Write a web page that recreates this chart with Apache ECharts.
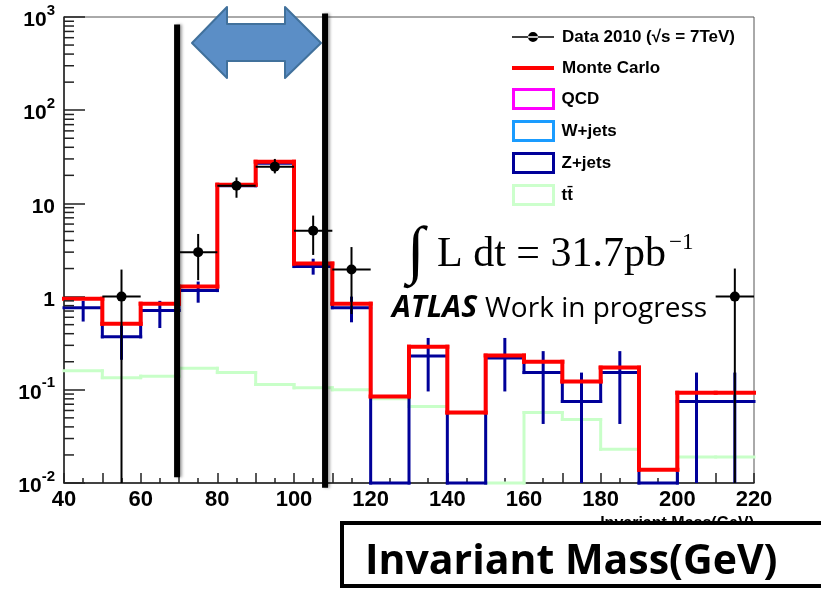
<!DOCTYPE html>
<html>
<head>
<meta charset="utf-8">
<script src="https://cdn.jsdelivr.net/npm/echarts@6/dist/echarts.min.js"></script>
<style>
  html, body { margin: 0; padding: 0; background: #fff; }
  #main { width: 821px; height: 589px; }
</style>
</head>
<body>
<div id="main"></div>
<script>
// bin edges of the mass histogram (GeV)
const binEdges = [40, 50, 60, 70, 80, 90, 100, 110, 120, 130, 140, 150, 160, 170, 180, 190, 200, 210, 220];
// Monte Carlo total (red)
const mcValues = [0.95, 0.51, 0.84, 1.28, 15.9, 28, 2.26, 0.84, 0.085, 0.29, 0.057, 0.233, 0.20, 0.123, 0.173, 0.0139, 0.093, 0.093];
// Z+jets (navy), empty bins sit on the axis floor
const zjetsValues = [0.76, 0.37, 0.71, 1.16, 15.5, 27, 2.1, 0.76, 0.01, 0.23, 0.01, 0.22, 0.153, 0.075, 0.153, 0.01, 0.075, 0.075];
const zjetsErrHi = [0.9, 0.5, 0.9, 1.45, 17, 29, 2.55, 1.0, null, 0.36, null, 0.36, 0.26, 0.153, 0.26, null, 0.153, 0.153];
const zjetsErrLo = [0.54, 0.21, 0.46, 0.86, 14, 25, 1.72, 0.53, null, 0.096, null, 0.096, 0.043, 0.01, 0.043, null, 0.01, 0.01];
// ttbar (light green)
const ttbarValues = [0.16, 0.135, 0.14, 0.17, 0.153, 0.114, 0.105, 0.1, 0.08, 0.066, 0.056, 0.01, 0.057, 0.048, 0.023, 0.014, 0.019, 0.019];
// QCD and W+jets have nothing visible
const qcdValues = [];
const wjetsValues = [];
// data points
const dataMass = [55, 75, 85, 95, 105, 115, 215];
const dataValues = [1.0, 3.0, 15.5, 24.8, 5.1, 1.95, 1.0];
const dataErrHi = [1.95, 4.7, 19, 30, 7.4, 3.4, 2.0];
const dataErrLo = [0.01, 1.5, 11.5, 21, 2.8, 0.65, 0.01];
// hand drawn cut lines
const cutMass = [69.5, 108.1];
const cutTop = [830, 1090];
const cutBottom = [0.0115, 0.0089];

const yLabels = { '1000': '{b|10}{s|3}', '100': '{b|10}{s|2}', '10': '{b|10}', '1': '{b|1}', '0.1': '{b|10}{s|-1}', '0.01': '{b|10}{s|-2}' };
const yMinorTicks = [];
[0.01, 0.1, 1, 10, 100].forEach(d => { for (let m = 2; m <= 9; m++) yMinorTicks.push(+(d * m).toPrecision(3)); });

const binHalf = (binEdges[1] - binEdges[0]) / 2;

function histData(vals) {
  return vals.map((v, i) => [binEdges[i], binEdges[i + 1], v, i > 0 ? vals[i - 1] : null]);
}

function histRender(color, width) {
  return function (params, api) {
    const a = api.coord([api.value(0), api.value(2)]);
    const b = api.coord([api.value(1), api.value(2)]);
    const kids = [{
      type: 'line',
      shape: { x1: a[0], y1: a[1], x2: b[0], y2: b[1] },
      style: { stroke: color, lineWidth: width, lineCap: 'square' }
    }];
    const prev = api.value(3);
    if (!isNaN(prev)) {
      const p = api.coord([api.value(0), prev]);
      kids.push({
        type: 'line',
        shape: { x1: p[0], y1: p[1], x2: a[0], y2: a[1] },
        style: { stroke: color, lineWidth: width, lineCap: 'square' }
      });
    }
    return { type: 'group', children: kids };
  };
}

const bold = 'Liberation Sans';
const legendText = { fontFamily: bold, fontWeight: 'bold', fontSize: 17, color: '#000', lineHeight: 20, padding: [0, 0, 0, 3] };

const chart = echarts.init(document.getElementById('main'));
chart.setOption({
  animation: false,
  backgroundColor: '#fff',
  grid: { left: 64, top: 17, width: 690, height: 466, show: true, borderColor: '#555', borderWidth: 1 },
  legend: [{
    orient: 'vertical', left: 512, top: 27, padding: 0, itemWidth: 42, itemHeight: 10,
    textStyle: legendText,
    data: [{ name: 'Data 2010 (√s = 7TeV)', icon: 'path://M0,4.25h42v1.5h-42z M16,5a5,5 0 1,0 10,0a5,5 0 1,0 -10,0z', itemStyle: { color: '#000' } }]
  }, {
    orient: 'vertical', left: 512, top: 58, padding: 0, itemWidth: 42, itemHeight: 4,
    textStyle: legendText,
    data: [{ name: 'Monte Carlo', icon: 'rect', itemStyle: { color: '#ff0000' } }]
  }, {
    orient: 'vertical', left: 512, top: 88, padding: 0, itemWidth: 40, itemHeight: 19, itemGap: 10,
    textStyle: legendText,
    data: [
      { name: 'QCD', icon: 'rect', itemStyle: { color: 'rgba(0,0,0,0)', borderColor: '#ff00ff', borderWidth: 3 } },
      { name: 'W+jets', icon: 'rect', itemStyle: { color: 'rgba(0,0,0,0)', borderColor: '#1a9cff', borderWidth: 3 } },
      { name: 'Z+jets', icon: 'rect', itemStyle: { color: 'rgba(0,0,0,0)', borderColor: '#000099', borderWidth: 3 } },
      { name: 'tt̄', icon: 'rect', itemStyle: { color: 'rgba(0,0,0,0)', borderColor: '#ccffcc', borderWidth: 3 } }
    ]
  }],
  xAxis: {
    type: 'value', min: 40, max: 220, interval: 10,
    axisLine: { lineStyle: { color: '#222', width: 1.5 } },
    axisTick: { inside: true, length: 10, lineStyle: { color: '#222', width: 1.5 } },
    minorTick: { show: true, splitNumber: 2, length: 5, lineStyle: { color: '#222', width: 1.5 } },
    splitLine: { show: false },
    axisLabel: {
      margin: 6, color: '#000', fontFamily: bold, fontWeight: 'bold', fontSize: 22,
      formatter: v => (v % 20 === 0 ? String(v) : '')
    },
    name: 'Invariant Mass(GeV)', nameLocation: 'end', nameGap: 0,
    nameTextStyle: { align: 'right', verticalAlign: 'top', padding: [33, 0, 0, 0], fontFamily: bold, fontWeight: 'bold', fontSize: 16, color: '#000' }
  },
  yAxis: {
    type: 'log', logBase: 10, min: 0.01, max: 1000,
    axisLine: { lineStyle: { color: '#222', width: 1.5 } },
    axisTick: { inside: true, length: 21, lineStyle: { color: '#222', width: 1.5 } },
    splitLine: { show: false },
    axisLabel: {
      margin: 9, color: '#000',
      formatter: v => yLabels[String(+v.toPrecision(3))] || '',
      rich: {
        b: { fontFamily: bold, fontWeight: 'bold', fontSize: 21, lineHeight: 28, verticalAlign: 'bottom', color: '#000' },
        s: { fontFamily: bold, fontWeight: 'bold', fontSize: 15, lineHeight: 15, verticalAlign: 'top', color: '#000' }
      }
    }
  },
  series: [
    {
      type: 'custom', silent: true, z: 3,
      data: yMinorTicks.map(v => [binEdges[0], v]),
      renderItem: (params, api) => {
        const p = api.coord([api.value(0), api.value(1)]);
        return { type: 'line', shape: { x1: p[0], y1: p[1], x2: p[0] + 10, y2: p[1] }, style: { stroke: '#222', lineWidth: 1.5 } };
      }
    },
    { name: 'QCD', type: 'custom', data: qcdValues, itemStyle: { color: '#ff00ff' }, renderItem: histRender('#ff00ff', 3) },
    { name: 'W+jets', type: 'custom', data: wjetsValues, itemStyle: { color: '#1a9cff' }, renderItem: histRender('#1a9cff', 3) },
    { name: 'tt̄', type: 'custom', data: histData(ttbarValues), itemStyle: { color: '#ccffcc' }, renderItem: histRender('#c8ffc8', 3) },
    { name: 'Z+jets', type: 'custom', data: histData(zjetsValues), itemStyle: { color: '#000099' }, renderItem: histRender('#000099', 3) },
    {
      type: 'custom',
      data: zjetsValues.map((v, i) => [binEdges[i] + binHalf, zjetsErrLo[i], zjetsErrHi[i]]).filter(d => d[1] != null),
      renderItem: (params, api) => {
        const lo = api.coord([api.value(0), api.value(1)]);
        const hi = api.coord([api.value(0), api.value(2)]);
        return { type: 'line', shape: { x1: lo[0], y1: lo[1], x2: hi[0], y2: hi[1] }, style: { stroke: '#000099', lineWidth: 3 } };
      }
    },
    { name: 'Monte Carlo', type: 'custom', data: histData(mcValues), itemStyle: { color: '#ff0000' }, renderItem: histRender('#ff0000', 4) },
    {
      name: 'Data 2010 (√s = 7TeV)', type: 'custom', itemStyle: { color: '#000' },
      data: dataMass.map((m, i) => [m, dataValues[i], dataErrLo[i], dataErrHi[i]]),
      renderItem: (params, api) => {
        const m = api.value(0), v = api.value(1);
        const c = api.coord([m, v]);
        const l = api.coord([m - binHalf, v]);
        const r = api.coord([m + binHalf, v]);
        const lo = api.coord([m, api.value(2)]);
        const hi = api.coord([m, api.value(3)]);
        return {
          type: 'group', children: [
            { type: 'line', shape: { x1: l[0], y1: l[1], x2: r[0], y2: r[1] }, style: { stroke: '#000', lineWidth: 2 } },
            { type: 'line', shape: { x1: lo[0], y1: lo[1], x2: hi[0], y2: hi[1] }, style: { stroke: '#000', lineWidth: 2 } },
            { type: 'circle', shape: { cx: c[0], cy: c[1], r: 5 }, style: { fill: '#000' } }
          ]
        };
      }
    },
    {
      type: 'line', clip: false, symbol: 'none', z: 6, silent: true,
      data: [[cutMass[0], cutBottom[0]], [cutMass[0], cutTop[0]]],
      lineStyle: { color: '#000', width: 6, shadowColor: 'rgba(0,0,0,0.35)', shadowBlur: 3, shadowOffsetX: 2 }
    },
    {
      type: 'line', clip: false, symbol: 'none', z: 6, silent: true,
      data: [[cutMass[1], cutBottom[1]], [cutMass[1], cutTop[1]]],
      lineStyle: { color: '#000', width: 6, shadowColor: 'rgba(0,0,0,0.35)', shadowBlur: 3, shadowOffsetX: 2 }
    }
  ],
  graphic: [
    {
      type: 'polygon', z: 20,
      shape: { points: [[192, 43], [227, 7], [227, 24], [285, 24], [285, 7], [321, 43], [285, 78], [285, 61], [227, 61], [227, 78]] },
      style: { fill: '#5b8ec6', stroke: '#41719c', lineWidth: 2, lineJoin: 'round' }
    },
    { type: 'text', z: 20, x: 407, y: 254, style: { text: '∫', font: '64px "Liberation Serif"', fill: '#000', verticalAlign: 'middle' } },
    { type: 'text', z: 20, x: 437, y: 255, style: { text: 'L dt = 31.7pb', font: '42px "Liberation Serif"', fill: '#000', verticalAlign: 'middle' } },
    { type: 'text', z: 20, x: 669, y: 243, style: { text: '−1', font: '23px "Liberation Serif"', fill: '#000', verticalAlign: 'middle' } },
    { type: 'text', z: 20, x: 392, y: 308, style: { text: 'ATLAS', font: 'italic bold 30px "Open Sans"', fill: '#000', verticalAlign: 'middle' } },
    { type: 'text', z: 20, x: 485, y: 309, style: { text: 'Work in progress', font: '28px "Open Sans"', fill: '#000', verticalAlign: 'middle' } },
    { type: 'rect', z: 20, shape: { x: 342, y: 523, width: 500, height: 63 }, style: { fill: '#fff', stroke: '#000', lineWidth: 4 } },
    { type: 'text', z: 21, x: 365, y: 562, style: { text: 'Invariant Mass(GeV)', font: 'bold 41px "Open Sans"', fill: '#000', verticalAlign: 'middle' } }
  ]
});
</script>
</body>
</html>
